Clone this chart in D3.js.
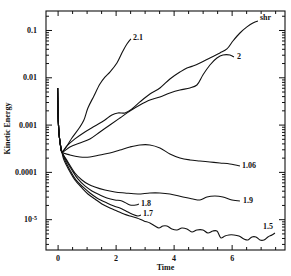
<!DOCTYPE html>
<html><head><meta charset="utf-8">
<script src="https://cdn.jsdelivr.net/npm/d3@7"></script>
<style>
html,body{margin:0;padding:0;background:#fff;}
svg{display:block;}
text{font-family:"Liberation Serif","DejaVu Serif",serif;fill:#111;}
</style></head>
<body>
<svg id="chart" width="291" height="276"></svg>
<script>
// ---- data ----
const xTickValues = [0, 2, 4, 6];
const xTickLabels = ["0", "2", "4", "6"];
const yTickValues = [1e-5, 1e-4, 1e-3, 1e-2, 1e-1];
const yTickLabels = ["10-5", "0.0001", "0.001", "0.01", "0.1"];
const xLabel = "Time";
const yLabel = "Kinetic Energy";

// common initial transient
const startT = [0, 0.017, 0.045, 0.097, 0.148];
const startV = [5.94e-3, 1.60e-3, 6.98e-4, 3.71e-4, 2.64e-4];

const s21T = [0.321, 0.493, 0.769, 0.907, 1.045, 1.252, 1.459, 1.631, 1.803, 2.045, 2.252, 2.390, 2.528];
const s21V = [3.53e-4, 5.21e-4, 8.89e-4, 1.25e-3, 2.24e-3, 4.03e-3, 7.22e-3, 1.01e-2, 1.29e-2, 2.00e-2, 3.60e-2, 5.06e-2, 6.46e-2];

const shrT = [0.321, 0.597, 0.941, 1.286, 1.631, 1.872, 2.079, 2.321, 2.562, 2.838, 3.183, 3.528, 3.872, 4.217, 4.459, 4.666, 4.907, 5.252, 5.597, 5.838, 6.045, 6.286, 6.528, 6.734, 6.907];
const shrV = [3.53e-4, 4.97e-4, 6.98e-4, 9.34e-4, 1.25e-3, 1.60e-3, 1.76e-3, 1.76e-3, 2.14e-3, 3.01e-3, 4.44e-3, 5.94e-3, 9.20e-3, 1.29e-2, 1.57e-2, 1.73e-2, 2.00e-2, 2.56e-2, 3.27e-2, 3.97e-2, 5.85e-2, 8.64e-2, 0.116, 0.141, 0.155];

const s2T = [0.424, 0.769, 1.114, 1.459, 1.803, 2.148, 2.493, 2.838, 3.183, 3.528, 3.872, 4.217, 4.562, 4.803, 5.010, 5.252, 5.493, 5.700, 5.941, 6.079];
const s2V = [3.36e-4, 4.08e-4, 4.97e-4, 6.98e-4, 9.82e-4, 1.38e-3, 1.94e-3, 2.60e-3, 3.31e-3, 3.84e-3, 4.66e-3, 5.39e-3, 5.94e-3, 6.88e-3, 1.12e-2, 1.82e-2, 2.56e-2, 2.96e-2, 2.96e-2, 2.69e-2];

const s106T = [0.424, 0.769, 1.114, 1.459, 1.803, 2.148, 2.493, 2.838, 3.183, 3.528, 3.872, 4.217, 4.562, 4.907, 5.252, 5.597, 5.941, 6.286];
const s106V = [2.28e-4, 2.06e-4, 2.06e-4, 2.28e-4, 2.51e-4, 2.90e-4, 3.36e-4, 3.71e-4, 3.71e-4, 3.20e-4, 2.39e-4, 1.97e-4, 1.79e-4, 1.70e-4, 1.62e-4, 1.54e-4, 1.47e-4, 1.33e-4];

const s19T = [0.355, 0.597, 0.838, 1.045, 1.286, 1.631, 1.976, 2.321, 2.769, 3.183, 3.528, 3.872, 4.321, 4.666, 4.907, 5.148, 5.424, 5.700, 6.010, 6.286];
const s19V = [1.62e-4, 9.48e-5, 6.75e-5, 5.55e-5, 4.80e-5, 4.14e-5, 3.76e-5, 3.58e-5, 3.41e-5, 3.58e-5, 3.58e-5, 3.41e-5, 2.95e-5, 2.67e-5, 2.55e-5, 2.95e-5, 3.09e-5, 2.95e-5, 2.55e-5, 2.43e-5];

const s18T = [0.286, 0.493, 0.700, 0.941, 1.183, 1.459, 1.700, 1.976, 2.217, 2.493, 2.700, 2.803];
const s18V = [1.79e-4, 1.10e-4, 7.08e-5, 5.04e-5, 3.95e-5, 3.25e-5, 2.81e-5, 2.55e-5, 2.43e-5, 2.00e-5, 2.00e-5, 2.10e-5];

const s17T = [0.252, 0.424, 0.631, 0.872, 1.114, 1.355, 1.700, 1.941, 2.148, 2.355, 2.562, 2.769, 2.872];
const s17V = [1.79e-4, 1.10e-4, 6.75e-5, 4.80e-5, 3.58e-5, 2.81e-5, 2.20e-5, 1.90e-5, 1.72e-5, 1.49e-5, 1.29e-5, 1.17e-5, 1.23e-5];

const s15T = [0.217, 0.390, 0.597, 0.838, 1.045, 1.286, 1.528, 1.803, 2.045, 2.286, 2.493, 2.734, 2.976, 3.183, 3.355, 3.493, 3.631, 3.769, 3.941, 4.114, 4.286, 4.459, 4.631, 4.803, 5.010, 5.183, 5.355, 5.493, 5.631, 5.769, 5.907, 6.079, 6.252, 6.424, 6.562, 6.700, 6.838, 6.976, 7.114, 7.252, 7.390, 7.493];
const s15V = [1.79e-4, 1.10e-4, 6.75e-5, 4.57e-5, 3.41e-5, 2.67e-5, 2.10e-5, 1.72e-5, 1.49e-5, 1.29e-5, 1.17e-5, 1.06e-5, 9.16e-6, 8.31e-6, 7.18e-6, 6.52e-6, 7.18e-6, 7.18e-6, 6.21e-6, 5.91e-6, 6.52e-6, 6.21e-6, 5.36e-6, 5.91e-6, 5.91e-6, 5.11e-6, 5.63e-6, 5.63e-6, 4.01e-6, 4.42e-6, 4.64e-6, 4.64e-6, 4.42e-6, 3.81e-6, 3.63e-6, 4.21e-6, 4.21e-6, 3.63e-6, 3.63e-6, 4.21e-6, 4.64e-6, 5.11e-6];

const seriesNames = ["2.1", "shr", "2", "1.06", "1.9", "1.8", "1.7", "1.5"];

// ---- layout ----
const X0 = 46, X1 = 285, Y0 = 11, Y1 = 250;
const svg = d3.select("#chart");
const x = d3.scaleLinear().domain([-0.4, 7.84]).range([X0, X1]);
const y = d3.scaleLog().domain([2.23e-6, 0.252]).range([Y1, Y0]);

const ink = "#111";

// minor ticks
const xMinor = d3.range(-0.0, 7.8, 0.5).filter(v => xTickValues.indexOf(v) < 0);
const yMinor = [];
for (let e = -6; e <= -1; e++) for (let k = 2; k <= 9; k++) {
  const v = k * Math.pow(10, e);
  if (v > y.domain()[0] && v < y.domain()[1]) yMinor.push(v);
}

function styleAxis(g) {
  g.select(".domain").remove();
  g.selectAll("line").attr("stroke", ink).attr("stroke-width", 1);
  g.selectAll("text").attr("font-size", 8).attr("font-weight", "bold")
    .attr("font-family", '"Liberation Serif","DejaVu Serif",serif').attr("fill", ink);
}

// bottom
svg.append("g").attr("transform", `translate(0,${Y1})`)
  .call(d3.axisBottom(x).tickValues(xTickValues).tickSize(-5).tickPadding(5)
    .tickFormat((d, i) => xTickLabels[i])).call(styleAxis);
svg.append("g").attr("transform", `translate(0,${Y1})`)
  .call(d3.axisBottom(x).tickValues(xMinor).tickSize(-3).tickFormat("")).call(styleAxis);
// top
svg.append("g").attr("transform", `translate(0,${Y0})`)
  .call(d3.axisTop(x).tickValues(xTickValues).tickSize(-5).tickFormat("")).call(styleAxis);
svg.append("g").attr("transform", `translate(0,${Y0})`)
  .call(d3.axisTop(x).tickValues(xMinor).tickSize(-3).tickFormat("")).call(styleAxis);
// left
const gl = svg.append("g").attr("transform", `translate(${X0},0)`)
  .call(d3.axisLeft(y).tickValues(yTickValues).tickSize(-6).tickPadding(9)
    .tickFormat((d, i) => yTickLabels[i])).call(styleAxis);
svg.append("g").attr("transform", `translate(${X0},0)`)
  .call(d3.axisLeft(y).tickValues(yMinor).tickSize(-3).tickFormat("")).call(styleAxis);
// right
svg.append("g").attr("transform", `translate(${X1},0)`)
  .call(d3.axisRight(y).tickValues(yTickValues).tickSize(-6).tickFormat("")).call(styleAxis);
svg.append("g").attr("transform", `translate(${X1},0)`)
  .call(d3.axisRight(y).tickValues(yMinor).tickSize(-3).tickFormat("")).call(styleAxis);

// superscript label for 10^-5
gl.selectAll(".tick text").each(function(d, i) {
  if (yTickLabels[i] === "10-5") {
    const t = d3.select(this).text("");
    t.append("tspan").text("10");
    t.append("tspan").attr("font-size", 6).attr("dy", "-0.45em").text("-5");
  }
});

// frame
svg.append("rect").attr("x", X0).attr("y", Y0).attr("width", X1 - X0).attr("height", Y1 - Y0)
  .attr("fill", "none").attr("stroke", ink).attr("stroke-width", 1.1);

// axis titles
svg.append("text").attr("x", (X0 + X1) / 2).attr("y", 270).attr("text-anchor", "middle")
  .attr("font-size", 8).attr("font-weight", "bold").text(xLabel);
svg.append("text").attr("transform", `translate(10,${(Y0 + Y1) / 2 - 2}) rotate(-90)`)
  .attr("text-anchor", "middle").attr("font-size", 8).attr("font-weight", "bold").text(yLabel);

// curves
const allT = [s21T, shrT, s2T, s106T, s19T, s18T, s17T, s15T];
const allV = [s21V, shrV, s2V, s106V, s19V, s18V, s17V, s15V];
const line = d3.line().x(d => x(d[0])).y(d => y(d[1])).curve(d3.curveCatmullRom.alpha(0.5));
const labelOffset = {"2.1": [2, 1], "shr": [2, -1], "2": [3, 2], "1.06": [2, 2], "1.9": [3, 2], "1.8": [2, 2], "1.7": [2, 1], "1.5": [-12, -4]};

seriesNames.forEach((name, i) => {
  const pts = startT.map((t, j) => [t, startV[j]]).concat(allT[i].map((t, j) => [t, allV[i][j]]));
  svg.append("path").attr("d", line(pts)).attr("fill", "none")
    .attr("stroke", ink).attr("stroke-width", 1.1);
  const last = pts[pts.length - 1];
  const off = labelOffset[name];
  svg.append("text").attr("x", x(last[0]) + off[0]).attr("y", y(last[1]) + off[1])
    .attr("font-size", 8).attr("font-weight", "bold").text(name);
});
</script>
</body></html>
